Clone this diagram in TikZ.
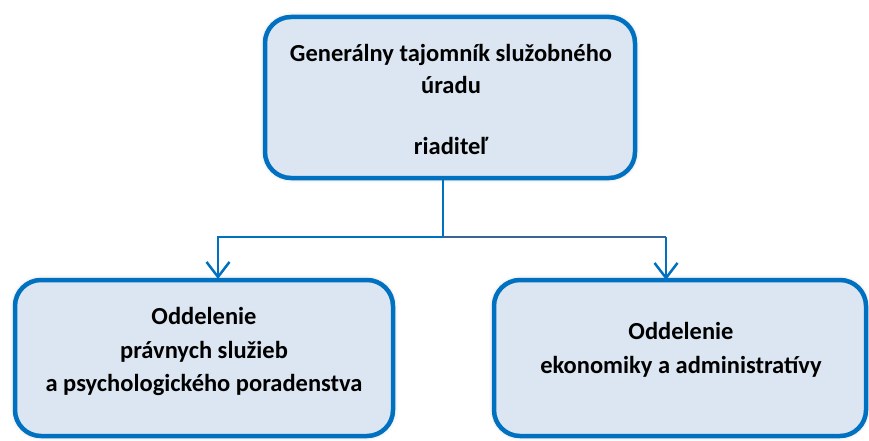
\documentclass[tikz,border=0pt]{standalone}
\usepackage{fontspec}
\setmainfont{Carlito}
\usetikzlibrary{arrows.meta,shadows.blur}
\definecolor{boxblue}{HTML}{0070C0}
\definecolor{boxfill}{HTML}{DCE6F2}
\definecolor{darkline}{HTML}{3A6496}
\tikzset{
  orgbox/.style={draw=boxblue, line width=4.5pt, fill=boxfill, rounded corners=26pt,
    inner sep=0pt, blur shadow={shadow xshift=0pt, shadow yshift=0pt, shadow blur radius=5pt, shadow opacity=25}},
  orgtext/.style={align=center, font=\fontsize{24.5}{32}\selectfont\bfseries, inner sep=0pt},
  orgtextb/.style={align=center, font=\fontsize{24.5}{33.5}\selectfont\bfseries, inner sep=0pt},
  conn/.style={draw=boxblue, line width=2.5pt},
  tip/.style={-{Straight Barb[length=15pt,width=23pt,line width=2.5pt]}}
}
\begin{document}
\begin{tikzpicture}[x=1pt,y=-1pt]
\useasboundingbox (0,0) rectangle (869,441);
% boxes
\node[orgbox, minimum width=370pt, minimum height=161pt] (gen) at (450,97.5) {};
\node[orgbox, minimum width=378pt, minimum height=156pt] (pravo) at (204,358) {};
\node[orgbox, minimum width=372pt, minimum height=156pt] (ekon) at (680,358) {};
% texts
\node[orgtext] (gent) at (451,99) {Generálny tajomník služobného\\úradu\\[29pt]riaditeľ};
\node[orgtextb] (pravot) at (204,351.5) {Oddelenie\\právnych služieb\\a psychologického poradenstva};
\node[orgtextb] (ekont) at (681,350) {Oddelenie\\ekonomiky a administratívy};
% connectors
\coordinate (j) at (443,237);
\coordinate (jl) at (218,237);
\coordinate (jr) at (666,237);
\coordinate (al) at (218,279);
\coordinate (ar) at (666,280);
\draw[conn] (gen.south -| j) -- (j);
\draw[conn, tip] (j) -- (jl) -- (al);
\draw[draw=darkline, line width=2.5pt] (j) -- (jr);
\draw[conn, tip] (jr) -- (ar);
\end{tikzpicture}
\end{document}
